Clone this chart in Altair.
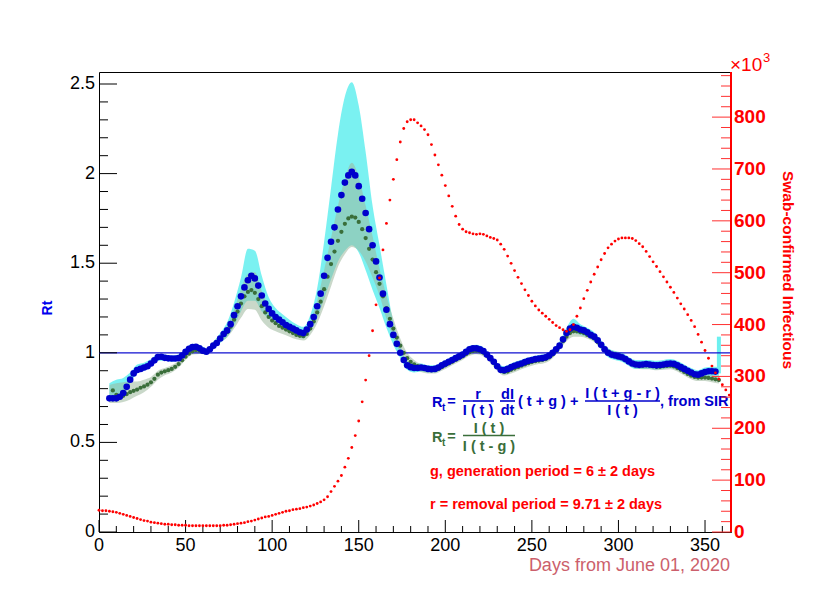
import altair as alt
import pandas as pd

FONT = "Liberation Sans"
W, H = 632, 460
XMAX, YMAX, RMAX = 365, 2.567, 887

# ---------------- data ----------------
red_days = list(range(0, 365, 2))
red_vals = [42, 41, 41, 40, 39, 38, 36, 34, 32, 30,
            28, 26, 24, 22, 21, 19, 18, 17, 16, 15,
            15, 14, 14, 13, 13, 13, 12, 12, 12, 12,
            12, 12, 12, 12, 12, 12, 13, 13, 14, 15,
            16, 17, 18, 20, 21, 23, 25, 27, 29, 30,
            32, 34, 36, 38, 40, 41, 43, 44, 45, 47,
            48, 50, 52, 55, 58, 62, 68, 78, 88, 98,
            109, 125, 142, 163, 186, 214, 251, 293, 340, 388,
            438, 490, 544, 595, 640, 680, 718, 752, 778, 791,
            795, 795, 789, 783, 776, 766, 747, 727, 708, 688,
            668, 648, 628, 609, 593, 584, 579, 577, 575, 574,
            575, 574, 571, 568, 566, 563, 555, 545, 532, 518,
            504, 491, 479, 467, 456, 445, 436, 428, 422, 416,
            410, 404, 398, 394, 390, 387, 390, 400, 416, 432,
            450, 466, 482, 497, 511, 525, 537, 548, 555, 561,
            565, 567, 567, 567, 566, 562, 556, 550, 541, 531,
            521, 512, 502, 492, 482, 472, 462, 451, 440, 430,
            419, 408, 396, 381, 366, 350, 335, 320, 307, 295,
            284, 274, 264]

sir_days = list(range(6, 357, 2))
sir_rt = [0.746, 0.746, 0.746, 0.755, 0.775, 0.81, 0.85, 0.885, 0.904, 0.91,
          0.918, 0.925, 0.94, 0.958, 0.976, 0.978, 0.972, 0.969, 0.968, 0.968,
          0.97, 0.985, 1.005, 1.022, 1.032, 1.034, 1.025, 1.012, 1.006, 1.02,
          1.04, 1.055, 1.08, 1.105, 1.125, 1.16, 1.21, 1.26, 1.315, 1.365,
          1.405, 1.43, 1.415, 1.375, 1.32, 1.275, 1.245, 1.22, 1.2, 1.185,
          1.17, 1.155, 1.145, 1.135, 1.125, 1.115, 1.11, 1.13, 1.16, 1.2,
          1.26, 1.33, 1.43, 1.53, 1.62, 1.7, 1.8, 1.88, 1.95, 1.99,
          2.01, 1.99, 1.93, 1.86, 1.78, 1.69, 1.6, 1.51, 1.42, 1.33,
          1.24, 1.16, 1.1, 1.05, 1.0, 0.96, 0.93, 0.92, 0.915, 0.915,
          0.918, 0.915, 0.91, 0.908, 0.91, 0.918, 0.93, 0.94, 0.95, 0.96,
          0.97, 0.98, 0.99, 1.005, 1.02, 1.025, 1.025, 1.02, 1.01, 0.99,
          0.97, 0.95, 0.925, 0.905, 0.903, 0.91, 0.92, 0.928, 0.935, 0.94,
          0.948, 0.955, 0.96, 0.965, 0.968, 0.97, 0.975, 0.985, 1.0, 1.02,
          1.04, 1.075, 1.11, 1.135, 1.145, 1.14, 1.13, 1.125, 1.115, 1.1,
          1.09, 1.07, 1.045, 1.02, 1.0, 0.99, 0.985, 0.98, 0.975, 0.965,
          0.952, 0.94, 0.935, 0.933, 0.935, 0.937, 0.935, 0.932, 0.93, 0.932,
          0.935, 0.938, 0.94, 0.938, 0.93, 0.92, 0.91, 0.9, 0.89, 0.88,
          0.878, 0.885, 0.893, 0.897, 0.897, 0.895]

ratio_days = list(range(8, 359, 2))
ratio_rt = [0.79, 0.765, 0.75, 0.76, 0.77, 0.78, 0.788, 0.795, 0.805, 0.812,
            0.822, 0.835, 0.855, 0.878, 0.89, 0.897, 0.903, 0.91, 0.922, 0.937,
            0.958, 0.978, 0.995, 1.008, 1.015, 1.012, 1.006, 1.008, 1.02, 1.04,
            1.06, 1.08, 1.1, 1.115, 1.145, 1.185, 1.23, 1.275, 1.315, 1.34,
            1.35, 1.335, 1.3, 1.26, 1.225, 1.2, 1.18, 1.165, 1.15, 1.14,
            1.13, 1.12, 1.11, 1.1, 1.095, 1.093, 1.105, 1.135, 1.175, 1.225,
            1.285, 1.355, 1.425, 1.495, 1.565, 1.625, 1.675, 1.72, 1.75, 1.76,
            1.755, 1.73, 1.69, 1.64, 1.58, 1.52, 1.45, 1.385, 1.315, 1.25,
            1.19, 1.135, 1.085, 1.04, 1.0, 0.97, 0.95, 0.935, 0.925, 0.915,
            0.91, 0.905, 0.903, 0.905, 0.91, 0.92, 0.93, 0.94, 0.95, 0.96,
            0.97, 0.98, 0.992, 1.003, 1.01, 1.012, 1.008, 1.0, 0.985, 0.965,
            0.945, 0.92, 0.9, 0.893, 0.895, 0.905, 0.912, 0.92, 0.928, 0.935,
            0.942, 0.948, 0.953, 0.957, 0.96, 0.965, 0.975, 0.99, 1.01, 1.035,
            1.065, 1.09, 1.11, 1.12, 1.12, 1.115, 1.11, 1.1, 1.09, 1.08,
            1.06, 1.04, 1.02, 1.003, 0.993, 0.988, 0.982, 0.975, 0.965, 0.952,
            0.94, 0.932, 0.928, 0.928, 0.93, 0.928, 0.925, 0.922, 0.922, 0.925,
            0.927, 0.928, 0.924, 0.915, 0.905, 0.893, 0.882, 0.872, 0.865, 0.862,
            0.862, 0.862, 0.86, 0.856, 0.852, 0.848]

band_days = list(range(6, 359, 4))
sir_lo = [0.73, 0.73, 0.755, 0.83, 0.885, 0.90, 0.92, 0.955, 0.955, 0.95,
          0.955, 0.99, 1.015, 1.005, 0.99, 1.02, 1.055, 1.09, 1.15, 1.23,
          1.29, 1.29, 1.23, 1.19, 1.16, 1.135, 1.115, 1.095, 1.08, 1.12,
          1.19, 1.30, 1.41, 1.51, 1.57, 1.60, 1.56, 1.46, 1.35, 1.25,
          1.14, 1.045, 0.97, 0.905, 0.89, 0.895, 0.89, 0.89, 0.91, 0.93,
          0.95, 0.97, 1.0, 1.005, 0.99, 0.95, 0.905, 0.88, 0.90, 0.915,
          0.928, 0.94, 0.948, 0.955, 0.98, 1.015, 1.08, 1.11, 1.10, 1.09,
          1.065, 1.02, 0.975, 0.96, 0.95, 0.927, 0.91, 0.91, 0.91, 0.905,
          0.91, 0.915, 0.905, 0.885, 0.865, 0.853, 0.868, 0.872, 0.87]
sir_hi = [0.83, 0.85, 0.86, 0.89, 0.935, 0.945, 0.965, 0.995, 0.99, 0.985,
          0.99, 1.025, 1.05, 1.045, 1.025, 1.06, 1.11, 1.17, 1.28, 1.42,
          1.58, 1.57, 1.43, 1.31, 1.25, 1.215, 1.185, 1.16, 1.145, 1.21,
          1.36, 1.62, 1.92, 2.22, 2.43, 2.51, 2.38, 2.12, 1.82, 1.60,
          1.38, 1.17, 1.04, 0.955, 0.94, 0.94, 0.93, 0.93, 0.95, 0.97,
          0.99, 1.01, 1.04, 1.045, 1.03, 0.99, 0.945, 0.925, 0.94, 0.955,
          0.968, 0.98, 0.988, 0.995, 1.02, 1.065, 1.14, 1.19, 1.16, 1.14,
          1.115, 1.07, 1.025, 1.01, 1.0, 0.977, 0.96, 0.96, 0.96, 0.955,
          0.96, 0.965, 0.955, 0.935, 0.915, 0.903, 0.918, 0.922, 0.92]
ratio_lo = [0.72, 0.72, 0.725, 0.74, 0.76, 0.78, 0.81, 0.85, 0.875, 0.89,
            0.918, 0.96, 0.99, 0.994, 0.99, 1.02, 1.058, 1.085, 1.135, 1.195,
            1.245, 1.24, 1.18, 1.14, 1.12, 1.105, 1.09, 1.075, 1.068, 1.10,
            1.165, 1.26, 1.37, 1.48, 1.55, 1.59, 1.57, 1.51, 1.42, 1.32,
            1.19, 1.085, 1.0, 0.94, 0.91, 0.893, 0.885, 0.885, 0.90, 0.92,
            0.94, 0.96, 0.983, 0.992, 0.98, 0.945, 0.90, 0.873, 0.885, 0.90,
            0.915, 0.928, 0.937, 0.945, 0.97, 1.015, 1.065, 1.09, 1.09, 1.08,
            1.06, 1.02, 0.983, 0.968, 0.955, 0.932, 0.912, 0.908, 0.908, 0.902,
            0.905, 0.908, 0.895, 0.873, 0.852, 0.842, 0.842, 0.836, 0.828]
ratio_hi = [0.82, 0.83, 0.835, 0.84, 0.84, 0.85, 0.865, 0.90, 0.915, 0.93,
            0.956, 0.996, 1.026, 1.03, 1.026, 1.06, 1.104, 1.15, 1.24, 1.355,
            1.44, 1.45, 1.345, 1.26, 1.21, 1.175, 1.15, 1.125, 1.118, 1.175,
            1.29, 1.46, 1.64, 1.82, 1.97, 2.06, 1.98, 1.82, 1.65, 1.47,
            1.32, 1.19, 1.08, 1.0, 0.96, 0.937, 0.925, 0.925, 0.94, 0.96,
            0.98, 1.0, 1.023, 1.032, 1.02, 0.985, 0.94, 0.913, 0.925, 0.94,
            0.955, 0.968, 0.977, 0.985, 1.01, 1.055, 1.115, 1.15, 1.14, 1.12,
            1.10, 1.06, 1.023, 1.008, 0.995, 0.972, 0.952, 0.948, 0.948, 0.942,
            0.945, 0.948, 0.935, 0.913, 0.892, 0.882, 0.882, 0.876, 0.868]

last_bar_day = [358]
last_bar_lo = [0.885]
last_bar_hi = [1.09]

x_label_vals = [0, 50, 100, 150, 200, 250, 300, 350]
x_label_txt = ["0", "50", "100", "150", "200", "250", "300", "350"]
x_minor_vals = [v for v in range(10, 361, 10) if v % 50 != 0]
yl_label_vals = [0, 0.5, 1, 1.5, 2, 2.5]
yl_label_txt = ["0", "0.5", "1", "1.5", "2", "2.5"]
yl_minor_vals = [round(0.1 * i, 1) for i in range(1, 25) if i % 5 != 0]
yr_label_vals = [0, 100, 200, 300, 400, 500, 600, 700, 800]
yr_label_txt = ["0", "100", "200", "300", "400", "500", "600", "700", "800"]
yr_minor_vals = [v for v in range(20, 881, 20) if v % 100 != 0]

# ---------------- frames ----------------
red_df = pd.DataFrame({"day": red_days, "inf": red_vals})
sir_df = pd.DataFrame({"day": sir_days, "rt": sir_rt})
ratio_df = pd.DataFrame({"day": ratio_days, "rt": ratio_rt})
band_df = pd.DataFrame({"day": band_days, "slo": sir_lo, "shi": sir_hi,
                        "rlo": ratio_lo, "rhi": ratio_hi})
last_df = pd.DataFrame({"day": last_bar_day, "lo": last_bar_lo, "hi": last_bar_hi})
one = pd.DataFrame({"a": [0]})

xs = alt.Scale(domain=[0, XMAX], nice=False, zero=False)
yl = alt.Scale(domain=[0, YMAX], nice=False, zero=False)
yr = alt.Scale(domain=[0, RMAX], nice=False, zero=False)

BLUE = "#0000cc"
GREEN = "#3a6e3a"
RED = "#ff0000"
CYAN = "#6cf0f0"

cyan_band = alt.Chart(band_df).mark_area(color=CYAN, opacity=0.9, interpolate="monotone").encode(
    x=alt.X("day:Q", scale=xs, axis=None),
    y=alt.Y("slo:Q", scale=yl, axis=None),
    y2="shi:Q")
green_band = alt.Chart(band_df).mark_area(color="#9cb89c", opacity=0.55, interpolate="monotone").encode(
    x=alt.X("day:Q", scale=xs, axis=None),
    y=alt.Y("rlo:Q", scale=yl, axis=None),
    y2="rhi:Q")
last_bar = alt.Chart(last_df).mark_rule(color=CYAN, strokeWidth=4).encode(
    x=alt.X("day:Q", scale=xs, axis=None),
    y=alt.Y("lo:Q", scale=yl, axis=None),
    y2="hi:Q")
one_line = alt.Chart(one).mark_rule(color="#1010d0", strokeWidth=1.2).encode(
    y=alt.Y("v:Q", scale=yl, axis=None), x=alt.value(0), x2=alt.value(W)
).transform_calculate(v="1")
green_pts = alt.Chart(ratio_df).mark_circle(color=GREEN, opacity=1, size=18).encode(
    x=alt.X("day:Q", scale=xs, axis=None),
    y=alt.Y("rt:Q", scale=yl, axis=None))
blue_pts = alt.Chart(sir_df).mark_circle(color=BLUE, opacity=1, size=44).encode(
    x=alt.X("day:Q", scale=xs, axis=None),
    y=alt.Y("rt:Q", scale=yl, axis=None))


def ticks_y(vals, scale, x1, x2, color):
    return alt.Chart(pd.DataFrame({"v": vals})).mark_rule(color=color, strokeWidth=1).encode(
        y=alt.Y("v:Q", scale=scale, axis=None), x=alt.value(x1), x2=alt.value(x2))


def ticks_x(vals, y1, y2):
    return alt.Chart(pd.DataFrame({"v": vals})).mark_rule(color="black", strokeWidth=1).encode(
        x=alt.X("v:Q", scale=xs, axis=None), y=alt.value(y1), y2=alt.value(y2))


def labels_y(vals, txts, scale, x, color, size, bold, align):
    df = pd.DataFrame({"v": vals, "t": txts})
    return alt.Chart(df).mark_text(font=FONT, fontSize=size, color=color, align=align,
                                   baseline="middle",
                                   fontWeight="bold" if bold else "normal").encode(
        y=alt.Y("v:Q", scale=scale, axis=None), x=alt.value(x), text="t:N")


def labels_x(vals, txts, y):
    df = pd.DataFrame({"v": vals, "t": txts})
    return alt.Chart(df).mark_text(font=FONT, fontSize=18, color="black", align="center",
                                   baseline="top").encode(
        x=alt.X("v:Q", scale=xs, axis=None), y=alt.value(y), text="t:N")


def txt(s, x, y, color, size, bold=True, align="left", angle=0, baseline="alphabetic"):
    kw = dict(text=s, font=FONT, fontSize=size, color=color, align=align, baseline=baseline,
              fontWeight="bold" if bold else "normal")
    if angle:
        kw["angle"] = angle
    return alt.Chart(one).mark_text(**kw).encode(x=alt.value(x), y=alt.value(y))


def bar(x1, x2, y, color, width=1.6):
    return alt.Chart(one).mark_rule(color=color, strokeWidth=width).encode(
        x=alt.value(x1), x2=alt.value(x2), y=alt.value(y))


texts = [
    # SIR formula
    txt("R", 333, 334.5, BLUE, 14.5),
    txt("t", 343, 338.5, BLUE, 10),
    txt("=", 352.5, 334, BLUE, 14.5, align="center"),
    txt("r", 379, 326.5, BLUE, 14.5, align="center"),
    bar(364, 395, 329, BLUE),
    txt("I ( t )", 379, 343, BLUE, 14.5, align="center"),
    txt("dI", 408.5, 327, BLUE, 14.5, align="center"),
    bar(401, 416, 329, BLUE),
    txt("dt", 408.5, 342.5, BLUE, 14.5, align="center"),
    txt("( t + g ) +", 419, 334, BLUE, 14.5),
    txt("I ( t + g - r )", 523.5, 325.5, BLUE, 14.5, align="center"),
    bar(486, 561, 329, BLUE),
    txt("I ( t )", 523.5, 343, BLUE, 14.5, align="center"),
    txt(",  from SIR", 561, 334, BLUE, 14.5),
    # ratio formula
    txt("R", 333, 369.5, GREEN, 14.5),
    txt("t", 343, 373.5, GREEN, 10),
    txt("=", 352.5, 369, GREEN, 14.5, align="center"),
    txt("I ( t )", 390, 360.5, GREEN, 14.5, align="center"),
    bar(364, 416, 363.5, GREEN),
    txt("I ( t - g )", 390, 378.5, GREEN, 14.5, align="center"),
    # parameters
    txt("g, generation period = 6 \u00b1 2 days", 331, 403.5, RED, 14.5),
    txt("r = removal period = 9.71 \u00b1 2 days", 331, 436.5, RED, 14.5),
    # axis titles
    txt("Rt", -51.5, 236, "#0000ee", 14, angle=270, align="center", baseline="middle"),
    txt("Swab-confirmed Infectious", 689, 198, RED, 15.5, angle=90, align="center", baseline="middle"),
    txt("Days from June 01, 2020", 631, 499, "#cc5f6c", 18, bold=False, align="right"),
    txt("\u00d710", 631, -1.5, RED, 19, bold=False),
    txt("3", 664, -10.5, RED, 13, bold=False),
]

left = alt.layer(
    cyan_band, green_band, last_bar, one_line, green_pts, blue_pts,
    ticks_y(yl_label_vals, yl, 0, 18, "black"),
    ticks_y(yl_minor_vals, yl, 0, 9, "black"),
    ticks_x(x_label_vals, H, H - 12),
    ticks_x(x_minor_vals, H, H - 6),
    labels_y(yl_label_vals, yl_label_txt, yl, -4, "black", 18, False, "right"),
    labels_x(x_label_vals, x_label_txt, H + 5),
    *texts,
)

red_pts = alt.Chart(red_df).mark_circle(color=RED, opacity=1, size=8).encode(
    x=alt.X("day:Q", scale=xs, axis=None),
    y=alt.Y("inf:Q", scale=yr, axis=None))
right = alt.layer(
    red_pts,
    ticks_y(yr_label_vals, yr, W, W - 19, "#ff3030"),
    ticks_y(yr_minor_vals, yr, W, W - 10, "#ff3030"),
    labels_y(yr_label_vals, yr_label_txt, yr, W + 3, RED, 19, True, "left"),
    bar(W, W, 0, RED, 2).encode(y2=alt.value(H)),
)

chart = alt.layer(left, right).resolve_scale(y="independent").properties(
    width=W, height=H,
    padding={"left": 91, "top": 64, "right": 90, "bottom": 66},
    autosize="none",
    background="white",
).configure_view(stroke="black", strokeWidth=1)

chart.save("out.html", embed_options={"renderer": "svg", "actions": False})
